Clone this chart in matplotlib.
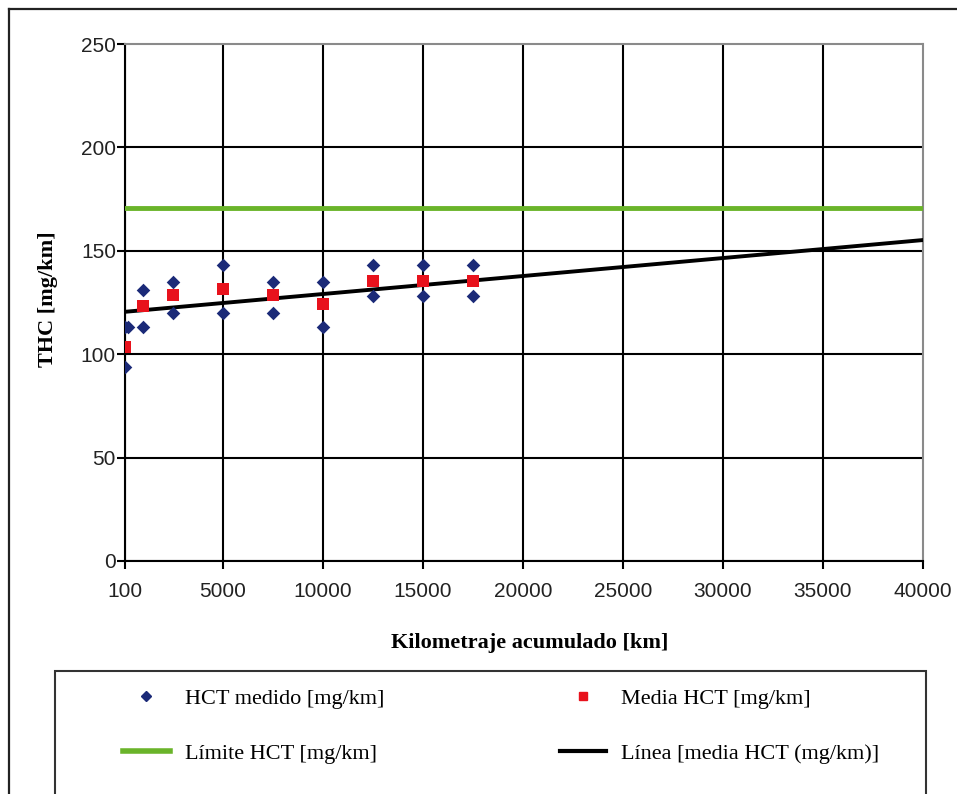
import matplotlib
matplotlib.use("Agg")
from matplotlib import pyplot as plt
from matplotlib.lines import Line2D
from matplotlib.patches import Rectangle

# measured HCT points (km, mg/km)
medido_km = [100, 100, 250, 1000, 1000, 2500, 2500, 5000, 5000, 7500, 7500,
             10000, 10000, 12500, 12500, 15000, 15000, 17500, 17500]
medido_hct = [94, 113, 113, 131, 113, 135, 120, 143, 120, 135, 120,
              135, 113, 143, 128, 143, 128, 143, 128]

# mean HCT per mileage
media_km = [100, 1000, 2500, 5000, 7500, 10000, 12500, 15000, 17500]
media_hct = [103.5, 123.5, 128.5, 131.5, 128.5, 124.5, 135.5, 135.5, 135.5]

# limit and trend line
limite_km = [100, 40000]
limite_hct = [170.5, 170.5]
linea_km = [100, 40000]
linea_hct = [120.5, 155.2]

xticks = [100, 5000, 10000, 15000, 20000, 25000, 30000, 35000, 40000]
yticks = [0, 50, 100, 150, 200, 250]

W, H = 957, 794
fig = plt.figure(figsize=(W / 100, H / 100), dpi=100)
ax = fig.add_axes([125 / W, 1 - 561 / H, (923 - 125) / W, (561 - 44) / H])

ax.plot(limite_km, limite_hct, color='#6ab42a', lw=3.5, zorder=3)
ax.plot(linea_km, linea_hct, color='black', lw=2.8, zorder=3)
ax.scatter(medido_km, medido_hct, marker='D', s=48, color='#1b2a78', zorder=4, linewidths=0)
ax.scatter(media_km, media_hct, marker='s', s=75, color='#e8121c', zorder=5, linewidths=0)

ax.set_xlim(100, 40000)
ax.set_ylim(0, 250)
ax.set_xticks(xticks)
ax.set_xticklabels([str(t) for t in xticks])
ax.set_yticks(yticks)
ax.grid(True, color='black', lw=1.5, zorder=0)
ax.get_xgridlines()[-1].set_visible(False)
ax.get_ygridlines()[-1].set_visible(False)
ax.set_axisbelow(True)

for s in ['top', 'right']:
    ax.spines[s].set_color('#8a8a8a')
    ax.spines[s].set_linestyle((0, (1, 1)))
    ax.spines[s].set_linewidth(1.5)
for s in ['left', 'bottom']:
    ax.spines[s].set_color('black')
    ax.spines[s].set_linewidth(1.5)

ax.tick_params(axis='both', direction='out', length=6, width=1.5, colors='black',
               labelcolor='#222222', labelsize=15)
ax.tick_params(axis='y', pad=0.5)
ax.tick_params(axis='x', pad=9)
for lbl in ax.get_xticklabels() + ax.get_yticklabels():
    lbl.set_fontfamily('Liberation Sans')

fig.text(48 / W, 1 - 299 / H, 'THC [mg/km]', rotation=90, ha='center', va='center',
         fontsize=16, fontweight='bold', family='Liberation Serif')
fig.text(530 / W, 1 - 643 / H, 'Kilometraje acumulado [km]', ha='center', va='center',
         fontsize=16, fontweight='bold', family='Liberation Serif')

# outer frame and legend frame
fig.add_artist(Line2D([9 / W, 9 / W], [0, 1 - 9 / H], transform=fig.transFigure, color='#222222', lw=1.6))
fig.add_artist(Line2D([9 / W, 1], [1 - 9 / H, 1 - 9 / H], transform=fig.transFigure, color='#222222', lw=1.6))
fig.add_artist(Rectangle((55 / W, -0.05), (926 - 55) / W, 0.05 + (794 - 671) / H,
                         transform=fig.transFigure, fill=False, edgecolor='#333333', lw=1.5))

handles = [
    Line2D([], [], marker='D', color='#1b2a78', ls='none', markersize=5.5),
    Line2D([], [], color='#6ab42a', lw=4),
    Line2D([], [], marker='s', color='#e8121c', ls='none', markersize=6),
    Line2D([], [], color='black', lw=3),
]
labels = ['HCT medido [mg/km]', 'Límite HCT [mg/km]', 'Media HCT [mg/km]', 'Línea [media HCT (mg/km)]']
fig.legend(handles, labels, loc='upper left', bbox_to_anchor=(123 / W, 1 - 688 / H), ncol=2,
           frameon=False, prop={'family': 'Liberation Serif', 'size': 16},
           borderpad=0, borderaxespad=0,
           handlelength=2.1, handletextpad=0.68, columnspacing=7.9, labelspacing=1.57)

fig.savefig('out.png', dpi=100)
